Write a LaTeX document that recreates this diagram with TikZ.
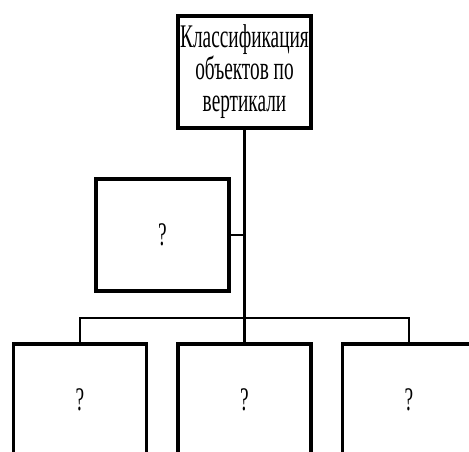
\documentclass[tikz,border=0pt]{standalone}
\usepackage{fontspec}
\setmainfont{Liberation Serif}
\newfontfamily\narrowserif[FakeStretch=0.585]{Liberation Serif}

\tikzset{
	box/.style={draw, line width=3.5pt, minimum width=133pt, minimum height=112pt, align=center, inner sep=0pt, font=\narrowserif\fontsize{33}{32}\selectfont},
	link/.style={line width=2.7pt}
}

\begin{document}
\begin{tikzpicture}[x=1pt,y=-1pt]
			%%%%% START %%%%%
			\useasboundingbox (0,0) rectangle (469,452);
			
			\node[box] (cls) at (244.5,72) {Классификация\\объектов по\\вертикали};
			\node[box] (side) at (162.5,235) {?};
			
			\node[box] (b1) at (80,400) {?};
			\node[box] (b2) at (244.5,400) {?};
			\node[box] (b3) at (409,400) {?};
			
			\coordinate (bar) at (244.5,318);
			
			\draw[link] (cls.south) -- (bar);
			\draw[link] (side.east) -- (side.east -| bar);
			\draw[link] (b1.north) |- (bar) -| (b3.north);
			\draw[link] (bar) -- (b2.north);
			
			%%%%% END %%%%%
\end{tikzpicture}
\end{document}
